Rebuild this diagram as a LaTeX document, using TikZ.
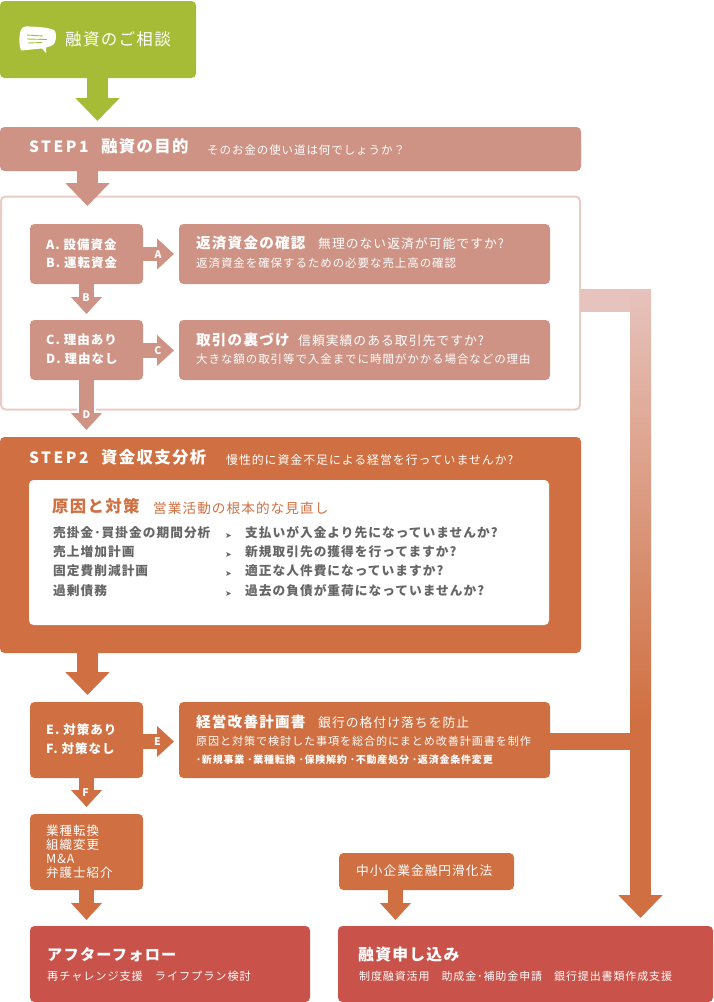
\documentclass[tikz,border=0pt]{standalone}
\usepackage{fontspec}
\usetikzlibrary{arrows.meta}
\newfontfamily\jp[LetterSpace=8]{Noto Sans CJK JP}
\newfontfamily\jpw[LetterSpace=16]{Noto Sans CJK JP}
\newfontfamily\sym{DejaVu Sans}
\newcommand\fz[1]{\jp\fontsize{#1}{#1}\selectfont}
\definecolor{cgreen}{HTML}{A6BC37}
\definecolor{csalmon}{HTML}{CE9385}
\definecolor{corange}{HTML}{D07042}
\definecolor{cred}{HTML}{C9534A}
\definecolor{cframe}{HTML}{E9CCC6}
\definecolor{cpale}{HTML}{E6C3BD}
\definecolor{cgray}{HTML}{666666}
\tikzset{
 box/.style={fill=#1,rounded corners=4.5pt,inner sep=0pt,anchor=north west,outer sep=0pt},
 tx/.style={anchor=mid west,inner sep=0pt,text=white,yshift=-1.2pt},
 head/.style={tx,font=\fz{16.4}\bfseries},
 sub/.style={tx,font=\fz{12.8}},
 line/.style={tx,font=\fz{11.5}},
 gl/.style={tx,text=cgray,font=\fz{12.7}\bfseries},
 tag/.style={inner sep=0pt,text=white,font=\jp\fontsize{10.5}{10.5}\selectfont\bfseries},
 bigarrow/.style={draw=#1,line width=21.5pt,-{Triangle[length=23pt,width=43pt,fill=#1]}},
 midarrow/.style={draw=#1,line width=15pt,-{Triangle[length=17pt,width=30pt,fill=#1]}},
 sidearrow/.style={draw=#1,line width=14.5pt,-{Triangle[length=17pt,width=30pt,fill=#1]}},
}
\begin{document}
\begin{tikzpicture}[x=1pt,y=-1pt]
\useasboundingbox (0,0) rectangle (713,1002);
% frame
\node[box=white,draw=cframe,line width=2pt,minimum width=579pt,minimum height=213pt] (frame) at (1,196.5) {};
% long connector
\coordinate (elbow) at (640.5,300.5);
\coordinate (gradend) at (640.5,720);
\coordinate (longtip) at (640.5,918);
\draw[cpale,line width=23pt] (frame.east |- elbow) -- (651,300.5);
\shade[top color=cpale,bottom color=corange] (630,289) rectangle (651,720);
\draw[bigarrow=corange] (gradend) -- (longtip);
% boxes
\node[box=cgreen,minimum width=196pt,minimum height=77pt] (start) at (0,1) {};
\node[box=csalmon,minimum width=581pt,minimum height=44pt] (step1) at (0,127) {};
\node[box=csalmon,minimum width=113pt,minimum height=60pt] (ab) at (30,224) {};
\node[box=csalmon,minimum width=371pt,minimum height=60pt] (repay) at (179,224) {};
\node[box=csalmon,minimum width=113pt,minimum height=60pt] (cd) at (30,320) {};
\node[box=csalmon,minimum width=371pt,minimum height=60pt] (trade) at (179,320) {};
\node[box=corange,minimum width=581pt,minimum height=216pt] (step2) at (0,437) {};
\node[box=white,minimum width=520pt,minimum height=145pt] (cause) at (29,480) {};
\node[box=corange,minimum width=113pt,minimum height=76pt] (ef) at (30,702) {};
\node[box=corange,minimum width=371pt,minimum height=76pt] (plan) at (179,702) {};
\node[box=corange,minimum width=113pt,minimum height=76pt] (alt) at (30,814) {};
\node[box=corange,minimum width=175pt,minimum height=37pt] (law) at (339,853) {};
\node[box=cred,minimum width=280pt,minimum height=76pt] (after) at (30,926) {};
\node[box=cred,minimum width=375pt,minimum height=76pt] (apply) at (338,926) {};
% tips
\coordinate (t0) at (97.5,121);
\coordinate (t1) at (87.5,206);
\coordinate (tA) at (174,254);
\coordinate (tB) at (86.5,314);
\coordinate (tC) at (174,350.5);
\coordinate (tD) at (86.5,430);
\coordinate (t2) at (87.5,695);
\coordinate (tE) at (174,741.5);
\coordinate (tF) at (86.5,807);
\coordinate (tG) at (86.5,920);
\coordinate (tH) at (395.5,920);
% arrows
\draw[bigarrow=cgreen] (t0 |- start.south) -- (t0);
\draw[bigarrow=csalmon] (t1 |- step1.south) -- (t1);
\draw[sidearrow=csalmon] (ab.east |- tA) -- (tA);
\draw[midarrow=csalmon] (tB |- ab.south) -- (tB);
\draw[sidearrow=csalmon] (cd.east |- tC) -- (tC);
\fill[white] (77,405) rectangle (96,412);
\draw[midarrow=csalmon] (tD |- cd.south) -- (tD);
\draw[bigarrow=corange] (t2 |- step2.south) -- (t2);
\draw[sidearrow=corange] (ef.east |- tE) -- (tE);
\draw[midarrow=corange] (tF |- ef.south) -- (tF);
\draw[midarrow=corange] (tG |- alt.south) -- (tG);
\draw[midarrow=corange] (tH |- law.south) -- (tH);
\draw[corange,line width=17pt] (plan.east |- tE) -- (640.5,741.5);
% arrow tags
\node[tag] (la) at (158,254.5) {A};
\node[tag] (lb) at (86,298) {B};
\node[tag] (lc) at (158,351) {C};
\node[tag] (ld) at (86.5,415) {D};
\node[tag] (le) at (157.5,742) {E};
\node[tag] (lf) at (85.5,792.5) {F};
% icon
\fill[white] (20,33) .. controls (21,27) and (24,26) .. (30,26.5) .. controls (42,27) and (52,28) .. (55,31) .. controls (57,35) and (56,41) .. (54,44) .. controls (52,46) and (48,47) .. (46,47.5) -- (46,53) -- (42,48.5) .. controls (35,49) and (28,50) .. (21,50.5) .. controls (19,45) and (19,39) .. (20,33) -- cycle;
\draw[cgreen,line width=.9pt] (27,35) -- (43,36) (27,39) -- (47,39.5) (28,43) -- (42,42.5);
% texts
\node[tx,font=\fz{16.5}] (tstart) at (65,42) {融資のご相談};
\node[tx,font=\jpw\fontsize{15.5}{15.5}\selectfont\bfseries] (s1a) at (29,149) {STEP1};
\node[tx,font=\fz{16.4}\bfseries] (s1b) at (101,149) {融資の目的};
\node[line] (s1c) at (207,151) {そのお金の使い道は何でしょうか？};
\node[tx,font=\fz{12.5}\bfseries] (abt1) at (46,246) {A. 設備資金};
\node[tx,font=\fz{12.5}\bfseries] (abt2) at (46,264) {B. 運転資金};
\node[head,font=\fz{14.6}\bfseries] (r1) at (196,245) {返済資金の確認};
\node[sub] (r2) at (318,245.5) {無理のない返済が可能ですか?};
\node[line] (r3) at (196,264) {返済資金を確保するための必要な売上高の確認};
\node[tx,font=\fz{12.5}\bfseries] (cdt1) at (46,341.5) {C. 理由あり};
\node[tx,font=\fz{12.5}\bfseries] (cdt2) at (46,360) {D. 理由なし};
\node[head,font=\fz{14.6}\bfseries] (tr1) at (196,342) {取引の裏づけ};
\node[sub] (tr2) at (298,342) {信頼実績のある取引先ですか?};
\node[line] (tr3) at (196,360) {大きな額の取引等で入金までに時間がかかる場合などの理由};
\node[tx,font=\jpw\fontsize{15.5}{15.5}\selectfont\bfseries] (s2a) at (29,460) {STEP2};
\node[tx,font=\fz{16.4}\bfseries] (s2b) at (101,460) {資金収支分析};
\node[line,font=\fz{11.9}] (s2c) at (226,461) {慢性的に資金不足による経営を行っていませんか?};
\node[tx,text=corange,font=\fz{16.4}\bfseries] (c1) at (52,509) {原因と対策};
\node[tx,text=corange,font=\fz{13.6}] (c2) at (153,510) {営業活動の根本的な見直し};
\node[gl] (a1) at (53,534) {売掛金･買掛金の期間分析};
\node[gl] (a2) at (53,553) {売上増加計画};
\node[gl] (a3) at (53,572.5) {固定費削減計画};
\node[gl] (a4) at (53,592) {過剰債務};
\node[tx,text=cgray,font=\sym\fontsize{8}{8}\selectfont] (m1) at (225,535) {➤};
\node[tx,text=cgray,font=\sym\fontsize{8}{8}\selectfont] (m2) at (225,554) {➤};
\node[tx,text=cgray,font=\sym\fontsize{8}{8}\selectfont] (m3) at (225,573) {➤};
\node[tx,text=cgray,font=\sym\fontsize{8}{8}\selectfont] (m4) at (225,593) {➤};
\node[gl] (b1) at (245,534) {支払いが入金より先になっていませんか?};
\node[gl] (b2) at (245,553) {新規取引先の獲得を行ってますか?};
\node[gl] (b3) at (245,572.5) {適正な人件費になっていますか?};
\node[gl] (b4) at (245,592) {過去の負債が重荷になっていませんか?};
\node[tx,font=\fz{12.5}\bfseries] (eft1) at (46,731) {E. 対策あり};
\node[tx,font=\fz{12.5}\bfseries] (eft2) at (46,750) {F. 対策なし};
\node[head,font=\fz{14.6}\bfseries] (p1) at (196,724) {経営改善計画書};
\node[sub] (p2) at (318,724.5) {銀行の格付け落ちを防止};
\node[line,font=\fz{11.1}] (p3) at (196,742) {原因と対策で検討した事項を総合的にまとめ改善計画書を制作};
\node[line,font=\fz{10}\bfseries] (p4) at (196,760) {･新規事業 ･業種転換 ･保険解約 ･不動産処分 ･返済金条件変更};
\node[tx,font=\fz{12.5}] (alt1) at (46,832) {業種転換};
\node[tx,font=\fz{12.5}] (alt2) at (46,846) {組織変更};
\node[tx,font=\fz{12.5}] (alt3) at (46,860) {M\&A};
\node[tx,font=\fz{12.5}] (alt4) at (46,874) {弁護士紹介};
\node[tx,font=\fz{12.7}] (lawt) at (356,872) {中小企業金融円滑化法};
\node[tx,font=\fz{15.2}\bfseries] (f1) at (47,957) {アフターフォロー};
\node[line,font=\fz{11.2}] (f2) at (47,977) {再チャレンジ支援\hspace{12pt}ライフプラン検討};
\node[tx,font=\fz{15.8}\bfseries] (g1) at (358,957) {融資申し込み};
\node[line,font=\fz{11}] (g2) at (359,977) {制度融資活用\hspace{12pt}助成金･補助金申請\hspace{12pt}銀行提出書類作成支援};
\end{tikzpicture}
\end{document}
